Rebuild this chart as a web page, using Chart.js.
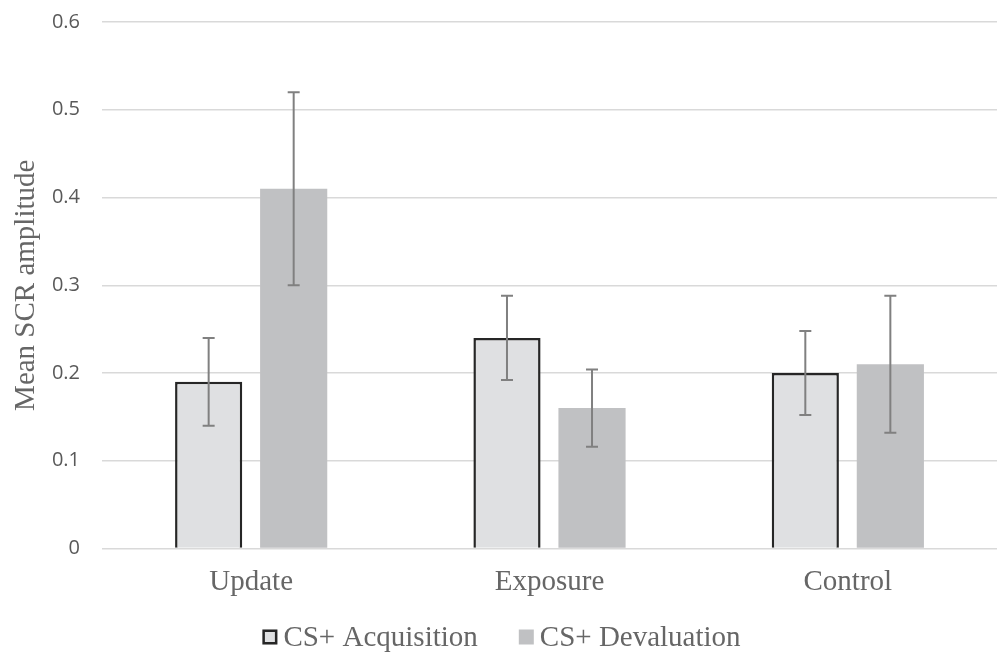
<!DOCTYPE html>
<html>
<head>
<meta charset="utf-8">
<script src="https://cdn.jsdelivr.net/npm/chart.js@4"></script>
<style>
  html, body { margin: 0; padding: 0; background: #fff; }
  #wrap { width: 1003px; height: 653px; position: relative; }
</style>
</head>
<body>
<div id="wrap"><canvas id="graph"></canvas></div>
<script>
const categories = ["Update", "Exposure", "Control"];
const acquisitionMeans = [0.19, 0.24, 0.20];
const acquisitionErrors = [0.05, 0.048, 0.048];
const devaluationMeans = [0.41, 0.16, 0.21];
const devaluationErrors = [0.11, 0.044, 0.078];
const yTicks = [0, 0.1, 0.2, 0.3, 0.4, 0.5, 0.6];

const serif = "'Liberation Serif', 'Times New Roman', serif";
const textColor = "#666666";

// draws the whiskers from the error arrays through the y scale
const errorBars = {
  id: "errorBars",
  afterDatasetsDraw(chart) {
    const ctx = chart.ctx;
    const y = chart.scales.y;
    chart.data.datasets.forEach((ds, i) => {
      const meta = chart.getDatasetMeta(i);
      meta.data.forEach((bar, j) => {
        const mean = ds.data[j];
        const err = ds.errors[j];
        const top = y.getPixelForValue(mean + err);
        const bottom = y.getPixelForValue(mean - err);
        ctx.save();
        ctx.strokeStyle = "#808080";
        ctx.lineWidth = 2;
        ctx.beginPath();
        ctx.moveTo(bar.x, top);
        ctx.lineTo(bar.x, bottom);
        ctx.moveTo(bar.x - 6, top);
        ctx.lineTo(bar.x + 6, top);
        ctx.moveTo(bar.x - 6, bottom);
        ctx.lineTo(bar.x + 6, bottom);
        ctx.stroke();
        ctx.restore();
      });
    });
  }
};

// legend drawn by hand so box/text gaps match the Excel look
const bottomLegend = {
  id: "bottomLegend",
  afterDraw(chart) {
    const ctx = chart.ctx;
    const box = 15, boxGap = 6, itemGap = 41;
    const cy = 637;
    ctx.save();
    ctx.font = "29px " + serif;
    ctx.textBaseline = "middle";
    const items = chart.data.datasets.map((ds) => ({
      ds,
      w: ctx.measureText(ds.label).width,
    }));
    let total = 0;
    items.forEach((it, i) => {
      total += box + boxGap + it.w + (i ? itemGap : 0);
    });
    let x = (chart.width - total) / 2;
    items.forEach((it) => {
      ctx.fillStyle = it.ds.backgroundColor;
      ctx.fillRect(x, cy - box / 2, box, box);
      if (it.ds.borderWidth) {
        ctx.strokeStyle = it.ds.borderColor;
        ctx.lineWidth = 2.5;
        ctx.strokeRect(x + 1.25, cy - box / 2 + 1.25, box - 2.5, box - 2.5);
      }
      ctx.fillStyle = textColor;
      ctx.fillText(it.ds.label, x + box + boxGap, cy + 1);
      x += box + boxGap + it.w + itemGap;
    });
    ctx.restore();
  }
};

new Chart(document.getElementById("graph"), {
  type: "bar",
  data: {
    labels: categories,
    datasets: [
      {
        label: "CS+ Acquisition",
        data: acquisitionMeans,
        errors: acquisitionErrors,
        backgroundColor: "#dfe0e2",
        borderColor: "#262626",
        borderWidth: 2.5,
        categoryPercentage: 0.57,
        barPercentage: 0.79,
      },
      {
        label: "CS+ Devaluation",
        data: devaluationMeans,
        errors: devaluationErrors,
        backgroundColor: "#c0c1c3",
        borderWidth: 0,
        categoryPercentage: 0.57,
        barPercentage: 0.79,
      },
    ],
  },
  options: {
    responsive: true,
    maintainAspectRatio: false,
    animation: false,
    layout: { padding: { top: 22, right: 6, bottom: 54.5, left: 0 } },
    plugins: {
      tooltip: { enabled: false },
      legend: { display: false },
    },
    scales: {
      x: {
        afterFit: (scale) => { scale.height = 50; },
        grid: { display: false },
        border: { display: false },
        ticks: {
          font: { family: serif, size: 29 },
          color: textColor,
          padding: 8,
        },
      },
      y: {
        min: 0,
        max: 0.6,
        afterFit: (scale) => { scale.width = 102; },
        afterBuildTicks: (scale) => { scale.ticks = yTicks.map((v) => ({ value: v })); },
        grid: {
          color: "#d9d9d9",
          lineWidth: 1.5,
          drawTicks: true,
          tickLength: 20,
          tickColor: "rgba(0,0,0,0)",
        },
        border: { display: false },
        ticks: {
          font: { family: "'Open Sans', sans-serif", size: 20 },
          color: "#595959",
          padding: 2,
          callback: (v) => (v === 0 ? "0" : v.toFixed(1)),
        },
        title: {
          display: true,
          text: "Mean SCR amplitude",
          font: { family: serif, size: 29 },
          color: textColor,
          padding: { top: 9, bottom: 2 },
        },
      },
    },
  },
  plugins: [errorBars, bottomLegend],
});
</script>
</body>
</html>
